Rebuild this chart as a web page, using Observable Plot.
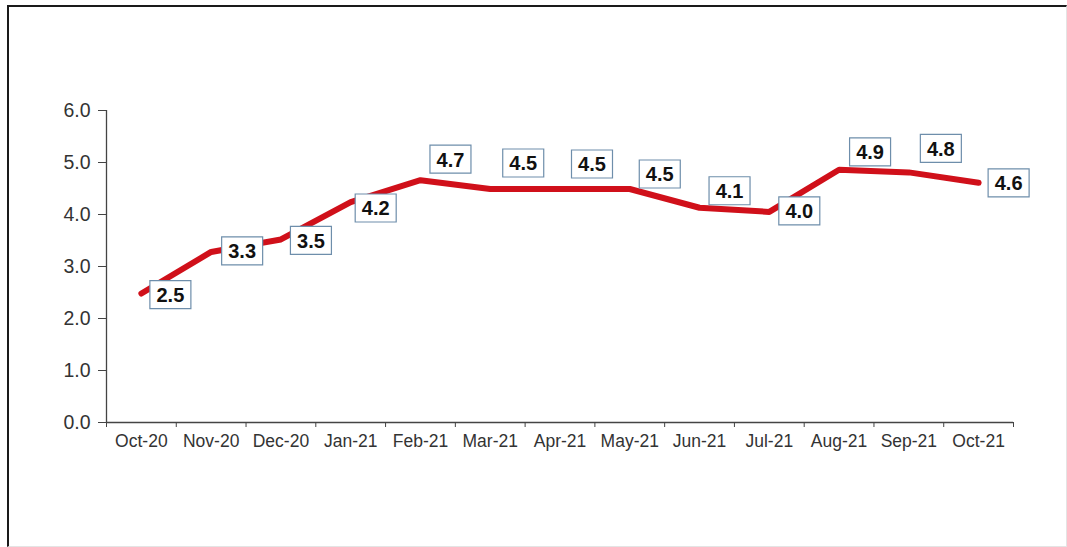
<!DOCTYPE html>
<html>
<head>
<meta charset="utf-8">
<script src="https://cdn.jsdelivr.net/npm/d3@7"></script>
<script src="https://cdn.jsdelivr.net/npm/@observablehq/plot@0.6"></script>
<style>
  html, body { margin: 0; padding: 0; background: #fff; }
  #wrap { position: relative; width: 1067px; height: 547px; overflow: hidden; }
  #frame { position: absolute; left: 7px; top: 5px; width: 1057px; height: 539px;
           border-top: 2px solid #1a1a1a; border-left: 2px solid #1a1a1a;
           border-right: 1px solid #e4e4e4; border-bottom: 1px solid #e4e4e4; pointer-events: none; }
  #chart { position: absolute; left: 0; top: 0; }
</style>
</head>
<body>
<div id="wrap"><div id="chart"></div><div id="frame"></div></div>
<script>
// ---- data ----
const months = ["Oct-20","Nov-20","Dec-20","Jan-21","Feb-21","Mar-21","Apr-21","May-21","Jun-21","Jul-21","Aug-21","Sep-21","Oct-21"];
const values = [2.48, 3.28, 3.52, 4.24, 4.66, 4.49, 4.49, 4.49, 4.13, 4.05, 4.86, 4.81, 4.61];
const yTicks = [0, 1, 2, 3, 4, 5, 6];

// ---- layout (label offsets in pixels, not data) ----
const labelDx = [29, 31, 30, 25, 30, 33, 32, 30, 30, 30, 31, 32, 30];
const labelDy = [1, -1, 1, 6, -21, -26, -25, -15, -17, -1, -18, -24, 0];

const W = 1067, H = 547;
const mL = 106, mR = 54, mT = 110, mB = 125;
const xDomain = [-0.5, months.length - 0.5];
const yDomain = [0, 6];
const pxPerX = (W - mL - mR) / (xDomain[1] - xDomain[0]);
const pxPerY = (H - mT - mB) / (yDomain[1] - yDomain[0]);

const data = months.map((m, i) => ({i, month: m, value: values[i],
  lx: i + labelDx[i] / pxPerX, ly: values[i] - labelDy[i] / pxPerY}));

const boxSymbol = {
  draw(context) { context.rect(-20.5, -14, 41, 28); }
};

const axisColor = "#444";
const textColor = "#333";
const font = "'Liberation Sans', Arial, sans-serif";

const chart = Plot.plot({
  width: W, height: H,
  marginLeft: mL, marginRight: mR, marginTop: mT, marginBottom: mB,
  style: {fontFamily: font, background: "transparent"},
  x: {type: "linear", domain: xDomain, axis: null},
  y: {domain: yDomain, axis: null},
  marks: [
    Plot.ruleX([xDomain[0]], {y1: yDomain[0], y2: yDomain[1], stroke: axisColor, strokeWidth: 1.3}),
    Plot.ruleY([0], {stroke: axisColor, strokeWidth: 1.3}),
    Plot.axisY({ticks: yTicks, tickFormat: d3.format(".1f"), tickSize: 8, tickPadding: 8,
      fontSize: 19.5, color: textColor, stroke: axisColor}),
    Plot.axisX({ticks: d3.range(xDomain[0], xDomain[1] + 0.01, 1), tickFormat: () => "",
      tickSize: 5, stroke: axisColor}),
    Plot.axisX({ticks: d3.range(months.length), tickFormat: i => months[i], tickSize: 0,
      tickPadding: 12, fontSize: 17.5, color: textColor}),
    Plot.line(data, {x: "i", y: "value", stroke: "#d0101a", strokeWidth: 6,
      strokeLinejoin: "round", strokeLinecap: "round"}),
    Plot.dot(data, {x: "lx", y: "ly", symbol: boxSymbol, fill: "white",
      stroke: "#6e8eab", strokeWidth: 1.2}),
    Plot.text(data, {x: "lx", y: "ly", text: d => d3.format(".1f")(d.value),
      fontSize: 20, fontWeight: "bold", fill: "#111", lineAnchor: "middle", dy: 1})
  ]
});
document.getElementById("chart").appendChild(chart);
</script>
</body>
</html>
